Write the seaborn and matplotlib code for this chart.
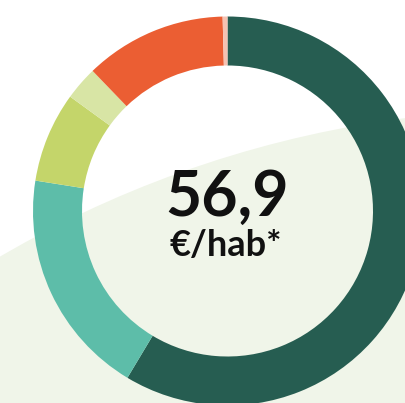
import matplotlib
matplotlib.use("Agg")
import matplotlib.pyplot as plt
from matplotlib.patches import Circle
import seaborn as sns

# ============================================================
# DADOS (parts del donut, en % del total)
# ============================================================

categorias = ["Cat. 1", "Cat. 2", "Cat. 3", "Cat. 4", "Cat. 5", "Cat. 6"]
valores = [58.6, 18.9, 7.5, 2.8, 11.8, 0.4]
cores = ["#265d51", "#5dbda9", "#c4d56a", "#d8e5a5", "#eb5e33", "#f6c2b2"]

total_txt = "56,9"
unidade_txt = "€/hab*"

# ============================================================
# FIGURA
# ============================================================

sns.set_theme(style="white")
plt.rcParams["font.family"] = ["Lato", "DejaVu Sans"]

W, H = 405, 403
fig = plt.figure(figsize=(W / 100, H / 100), dpi=100)
fig.patch.set_facecolor("white")

ax = fig.add_axes([0, 0, 1, 1])

# fundo: arco verde claro
ax.add_patch(Circle((545, H - 1189), 1080, facecolor="#f0f5e9",
                    edgecolor="none", zorder=0))

cx, cy = 227.5, H - 211
r_ext, larg = 194.5, 49

ax.pie(valores, colors=sns.color_palette(cores), startangle=90,
       counterclock=False, center=(cx, cy), radius=r_ext,
       wedgeprops=dict(width=larg, linewidth=0, antialiased=True))

ax.text(cx, H - 216, total_txt, ha="center", va="baseline",
        fontsize=45, fontweight="bold", color="#111111")
ax.text(cx - 2, H - 256, unidade_txt, ha="center", va="baseline",
        fontsize=26, fontweight="bold", color="#111111")

ax.set_xlim(0, W)
ax.set_ylim(0, H)
ax.set_aspect("equal")
ax.axis("off")

fig.savefig("out.png", dpi=100)
plt.close(fig)
